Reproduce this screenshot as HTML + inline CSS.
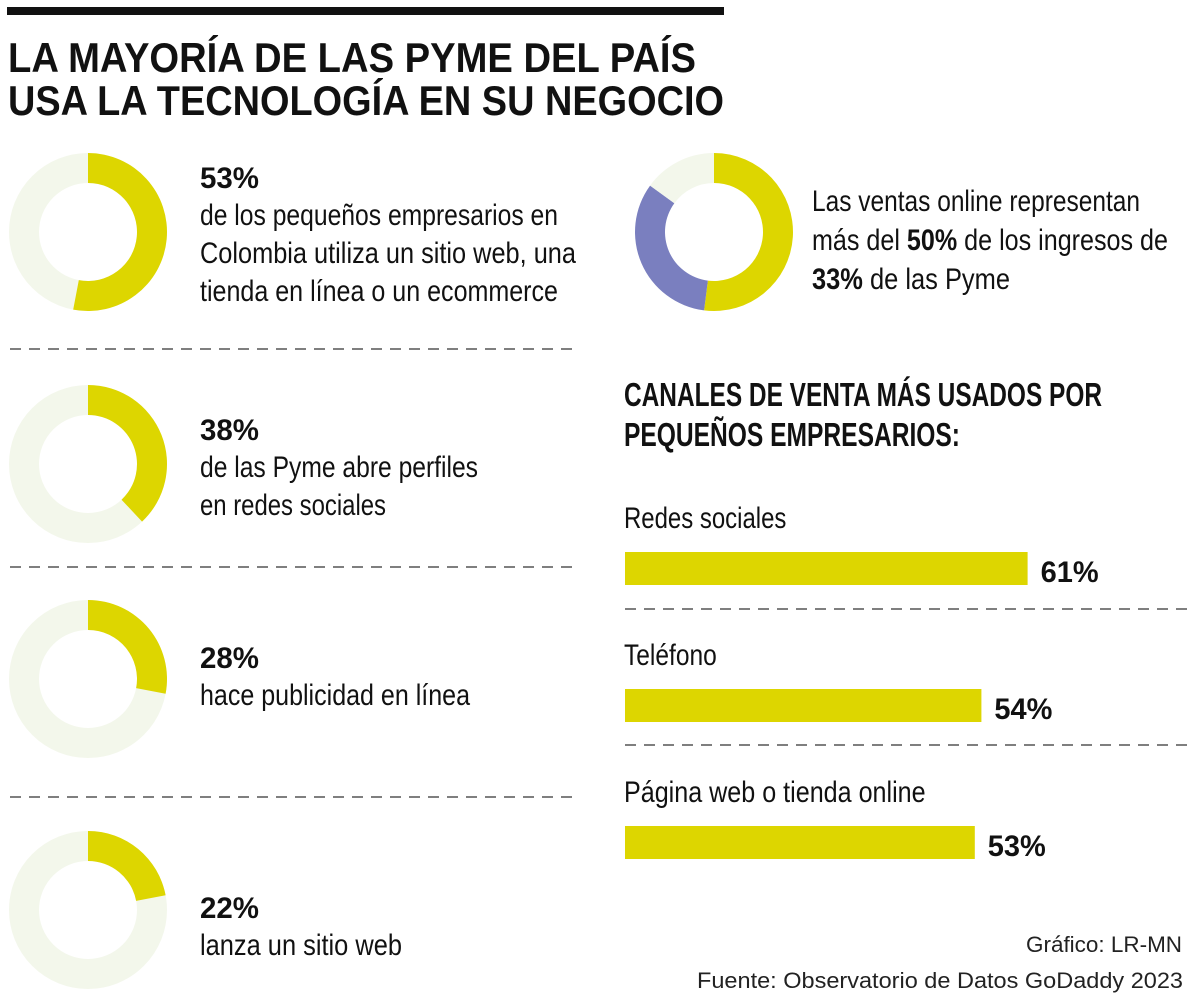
<!DOCTYPE html>
<html><head><meta charset="utf-8"><style>
html,body{margin:0;padding:0;background:#fff;}
svg{display:block;font-family:"Liberation Sans Narrow","Liberation Sans",sans-serif;}
</style></head><body>
<svg id="c" width="1200" height="1005" viewBox="0 0 1200 1005">
<rect x="7" y="7" width="717" height="8" fill="#111"/>
<text x="8" y="72" font-size="42" font-weight="bold" fill="#111" textLength="688" lengthAdjust="spacingAndGlyphs">LA MAYORÍA DE LAS PYME DEL PAÍS</text>
<text x="8" y="115" font-size="42" font-weight="bold" fill="#111" textLength="716" lengthAdjust="spacingAndGlyphs">USA LA TECNOLOGÍA EN SU NEGOCIO</text>
<g id="donuts"></g>
<g id="dashes"></g>
<g font-size="30" fill="#111">
<text x="200" y="188" font-weight="bold" textLength="59" lengthAdjust="spacingAndGlyphs">53%</text>
<text x="200" y="225" textLength="358" lengthAdjust="spacingAndGlyphs">de los pequeños empresarios en</text>
<text x="200" y="263" textLength="376" lengthAdjust="spacingAndGlyphs">Colombia utiliza un sitio web, una</text>
<text x="200" y="301" textLength="358" lengthAdjust="spacingAndGlyphs">tienda en línea o un ecommerce</text>
<text x="200" y="440" font-weight="bold" textLength="59" lengthAdjust="spacingAndGlyphs">38%</text>
<text x="200" y="477" textLength="278" lengthAdjust="spacingAndGlyphs">de las Pyme abre perfiles</text>
<text x="200" y="515" textLength="186" lengthAdjust="spacingAndGlyphs">en redes sociales</text>
<text x="200" y="668" font-weight="bold" textLength="59" lengthAdjust="spacingAndGlyphs">28%</text>
<text x="200" y="705" textLength="270" lengthAdjust="spacingAndGlyphs">hace publicidad en línea</text>
<text x="200" y="918" font-weight="bold" textLength="59" lengthAdjust="spacingAndGlyphs">22%</text>
<text x="200" y="955" textLength="202" lengthAdjust="spacingAndGlyphs">lanza un sitio web</text>
<text x="812" y="211" textLength="328" lengthAdjust="spacingAndGlyphs">Las ventas online representan</text>
<text x="812" y="250" textLength="356" lengthAdjust="spacingAndGlyphs">más del <tspan font-weight="bold">50%</tspan> de los ingresos de</text>
<text x="812" y="289" textLength="198" lengthAdjust="spacingAndGlyphs"><tspan font-weight="bold">33%</tspan> de las Pyme</text>
<text x="624" y="406" font-size="33" font-weight="bold" textLength="478" lengthAdjust="spacingAndGlyphs">CANALES DE VENTA MÁS USADOS POR</text>
<text x="624" y="446" font-size="33" font-weight="bold" textLength="336" lengthAdjust="spacingAndGlyphs">PEQUEÑOS EMPRESARIOS:</text>
</g>
<g id="bars"></g>
<text x="1182" y="952" text-anchor="end" font-size="22" fill="#222" font-family="Liberation Sans, sans-serif" textLength="156" lengthAdjust="spacingAndGlyphs">Gráfico: LR-MN</text>
<text x="1183" y="988" text-anchor="end" font-size="22" fill="#222" font-family="Liberation Sans, sans-serif" textLength="486" lengthAdjust="spacingAndGlyphs">Fuente: Observatorio de Datos GoDaddy 2023</text>
</svg>
<script>
const donutValues = [53, 38, 28, 22];
const onlineSegments = [52, 33, 15];
const channelCategories = ["Redes sociales", "Teléfono", "Página web o tienda online"];
const channelValues = [61, 54, 53];
const channelLabels = ["61%", "54%", "53%"];

const NS = "http://www.w3.org/2000/svg";
const YEL = "#ddd600", LIGHT = "#f3f7eb", BLUE = "#7a7fbf";
function mk(tag, attrs, parent){const e=document.createElementNS(NS,tag);for(const k in attrs)e.setAttribute(k,attrs[k]);parent.appendChild(e);return e;}
function arcPath(cx,cy,ro,ri,a0,a1){
  const p=(r,a)=>[cx+r*Math.sin(a*2*Math.PI),cy-r*Math.cos(a*2*Math.PI)];
  const large=(a1-a0)>0.5?1:0;
  const [x0,y0]=p(ro,a0),[x1,y1]=p(ro,a1),[x2,y2]=p(ri,a1),[x3,y3]=p(ri,a0);
  return `M${x0},${y0}A${ro},${ro} 0 ${large} 1 ${x1},${y1}L${x2},${y2}A${ri},${ri} 0 ${large} 0 ${x3},${y3}Z`;
}
const dg = document.getElementById("donuts");
const centersY = [232, 464, 679, 910];
donutValues.forEach((v,i)=>{
  const g = mk("g",{},dg);
  
  
  const bg = mk("circle",{cx:88,cy:centersY[i],r:64,fill:"none",stroke:LIGHT,"stroke-width":30},g);
  
  
  const s = mk("path",{d:arcPath(88,centersY[i],79,49,0,v/100),fill:YEL},g);
  
  
});
let acc=0; const segCols=[YEL,BLUE,LIGHT];
onlineSegments.forEach((v,i)=>{
  const s = mk("path",{d:arcPath(714,232,79,49,acc/100,(acc+v)/100),fill:segCols[i]},dg);
  
  
  acc+=v;
});
const dsh = document.getElementById("dashes");
[[10,575,349],[10,575,567],[10,575,797],[625,1190,609],[625,1190,745]].forEach(d=>{
  const l = mk("line",{x1:d[0],x2:d[1],y1:d[2],y2:d[2],stroke:"#333","stroke-width":1.3,"stroke-dasharray":"11 8"},dsh);
  
  
});
const bg2 = document.getElementById("bars");
const xScale = v => 625 + v*6.6;
channelCategories.forEach((c,i)=>{
  const y0 = 552 + i*137;
  const t = mk("text",{x:624,y:y0-24,"font-size":30,fill:"#111",textLength:c.length*11.6,lengthAdjust:"spacingAndGlyphs"},bg2);
  t.textContent=c;
  
  
  const r = mk("rect",{x:625,y:y0,width:xScale(channelValues[i])-625,height:33,fill:YEL},bg2);
  
  
  const v = mk("text",{x:xScale(channelValues[i])+13,y:y0+30,"font-size":30,"font-weight":"bold",fill:"#111",textLength:58,lengthAdjust:"spacingAndGlyphs"},bg2);
  v.textContent=channelLabels[i];
  
  
});
</script>
</body></html>
